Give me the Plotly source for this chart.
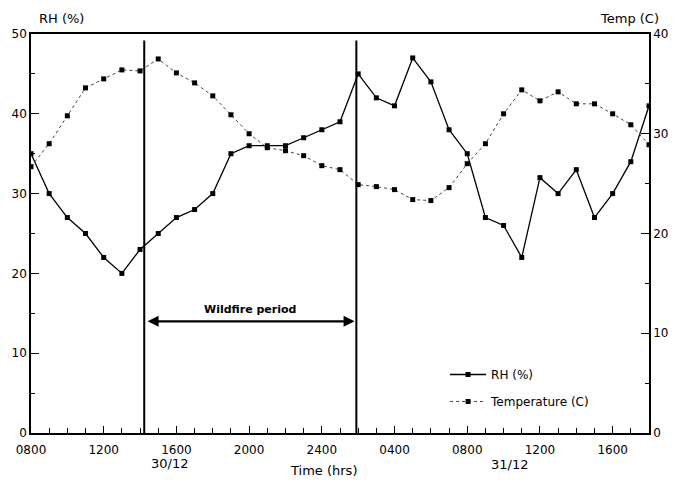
import plotly.graph_objects as go

hours = list(range(35))  # hours after 0800 30/12
rh = [35, 30, 27, 25, 22, 20, 23, 25, 27, 28, 30, 35, 36, 36, 36, 37, 38, 39,
      45, 42, 41, 47, 44, 38, 35, 27, 26, 22, 32, 30, 33, 27, 30, 34, 41]
temp = [26.7, 29.0, 31.8, 34.6, 35.5, 36.4, 36.3, 37.5, 36.1, 35.1, 33.8, 31.9,
        30.0, 28.6, 28.3, 27.8, 26.8, 26.4, 24.9, 24.7, 24.4, 23.4, 23.3, 24.6,
        27.0, 29.0, 32.0, 34.4, 33.3, 34.2, 33.0, 33.0, 32.0, 30.9, 28.9]
tick_hours = [0, 4, 8, 12, 16, 20, 24, 28, 32]
tick_labels = ["0800", "1200", "1600", "2000", "2400", "0400", "0800", "1200", "1600"]
fire_start, fire_end = 6.23, 17.9

FONT = "DejaVu Sans"

fig = go.Figure()
fig.add_trace(go.Scatter(
    x=hours, y=rh, name="RH (%)", mode="lines+markers",
    line=dict(color="black", width=1.3),
    marker=dict(symbol="square", size=5, color="black"),
    legendgroup="a"))
fig.add_trace(go.Scatter(
    x=hours, y=temp, name="Temperature (C)", mode="lines+markers", yaxis="y2",
    line=dict(color="#444444", width=1, dash="dot"),
    marker=dict(symbol="square", size=5, color="black"),
    legendgroup="b"))

for xv in (fire_start, fire_end):
    fig.add_shape(type="line", x0=xv, x1=xv, y0=0, y1=49.2, xref="x", yref="y",
                  line=dict(color="black", width=2))

fig.add_annotation(x=fire_end - 0.1, y=14, ax=fire_start + 0.1, ay=14,
                   xref="x", yref="y", axref="x", ayref="y", text="",
                   showarrow=True, arrowhead=2, arrowside="end+start",
                   arrowwidth=2.2, arrowsize=1, arrowcolor="black")
fig.add_annotation(x=(fire_start + fire_end) / 2, y=15.5, xref="x", yref="y",
                   text="<b>Wildfire period</b>", showarrow=False,
                   font=dict(family=FONT, size=11, color="black"))

ann_font = dict(family=FONT, size=13, color="black")
fig.add_annotation(x=0.01, y=1.015, xref="paper", yref="paper", text="RH (%)",
                   showarrow=False, xanchor="left", yanchor="bottom", font=ann_font)
fig.add_annotation(x=1.02, y=1.015, xref="paper", yref="paper", text="Temp (C)",
                   showarrow=False, xanchor="right", yanchor="bottom", font=ann_font)
fig.add_annotation(x=0.474, y=-0.095, xref="paper", yref="paper", text="Time (hrs)",
                   showarrow=False, xanchor="center", yanchor="middle", font=ann_font)
fig.add_annotation(x=7.6, y=-0.077, xref="x", yref="paper", text="30/12",
                   showarrow=False, xanchor="center", yanchor="middle", font=ann_font)
fig.add_annotation(x=26.3, y=-0.08, xref="x", yref="paper", text="31/12",
                   showarrow=False, xanchor="center", yanchor="middle", font=ann_font)

axis_common = dict(showline=True, linecolor="black", linewidth=1.5, showgrid=False,
                   zeroline=False, ticks="inside", tickcolor="black", automargin=False,
                   tickfont=dict(family=FONT, size=12, color="black"))

fig.update_layout(
    width=686, height=484,
    margin=dict(l=31, r=37, t=34, b=51, autoexpand=False),
    paper_bgcolor="white", plot_bgcolor="white",
    font=dict(family=FONT, size=12, color="black"),
    xaxis=dict(range=[0, 34], tickvals=tick_hours, ticktext=tick_labels,
               ticklen=7, mirror=True, ticklabelstandoff=5,
               minor=dict(dtick=1, ticks="inside", ticklen=5, tickcolor="black"),
               **axis_common),
    yaxis=dict(range=[0, 50], dtick=10, ticklen=8,
               minor=dict(dtick=5, ticks="inside", ticklen=4, tickcolor="black"),
               **axis_common),
    yaxis2=dict(range=[0, 40], dtick=10, ticklen=8, overlaying="y", side="right",
                minor=dict(dtick=5, ticks="inside", ticklen=4, tickcolor="black"),
                **axis_common),
    showlegend=True,
    legend=dict(x=0.67, y=0.183, xanchor="left", yanchor="top", itemwidth=36,
                bgcolor="rgba(0,0,0,0)", tracegroupgap=8,
                font=dict(family=FONT, size=12, color="black")),
)

fig.write_html("out.html", config={"displayModeBar": False},
               post_script="document.body.style.margin='0px';")
